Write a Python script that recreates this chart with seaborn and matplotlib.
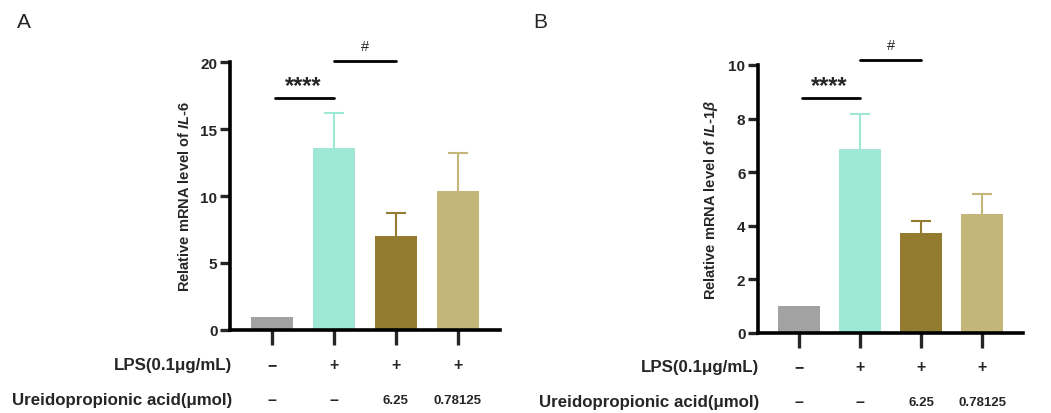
import numpy as np
import pandas as pd
import matplotlib
matplotlib.use("Agg")
import matplotlib.pyplot as plt
import matplotlib.transforms as mtransforms
import seaborn as sns

sns.set_style("white")
plt.rcParams['font.family'] = ['Liberation Sans', 'DejaVu Sans']
plt.rcParams['mathtext.fontset'] = 'custom'
plt.rcParams['mathtext.it'] = 'Liberation Sans:italic:bold'
plt.rcParams['mathtext.rm'] = 'Liberation Sans:bold'

# данные
groups = ["Control", "LPS", "LPS+6.25", "LPS+0.78125"]
colors = ["#a2a2a2", "#a0e8d6", "#937b30", "#c4b578"]
lps_row = ["−", "+", "+", "+"]
ua_row = ["–", "–", "6.25", "0.78125"]

il6_mean = [1.0, 13.6, 7.05, 10.35]
il6_err = [0.0, 2.6, 1.7, 2.85]
il1b_mean = [1.0, 6.85, 3.72, 4.43]
il1b_err = [0.0, 1.33, 0.45, 0.76]

fig = plt.figure(figsize=(10.51, 4.14), dpi=100)

panels = [
    dict(rect=[0.2188, 0.2005, 0.2569, 0.6473], mean=il6_mean, err=il6_err,
         ymax=20, yticks=[0, 5, 10, 15, 20], gene=r"$\mathit{IL}$-$\mathit{6}$",
         letter="A", lx=0.016, star_y=17.3, hash_y=20.1, xl=(-0.68, 3.68),
         lps_y=1 - 366 / 414, ua_y=1 - 401 / 414),
    dict(rect=[0.7212, 0.194, 0.2522, 0.6466], mean=il1b_mean, err=il1b_err,
         ymax=10, yticks=[0, 2, 4, 6, 8, 10], gene=r"$\mathit{IL}$-$\mathit{1\beta}$",
         letter="B", lx=0.507, star_y=8.76, hash_y=10.2, xl=(-0.67, 3.67),
         lps_y=1 - 368 / 414, ua_y=1 - 403 / 414),
]

for p in panels:
    ax = fig.add_axes(p['rect'])
    df = pd.DataFrame({'group': groups, 'value': p['mean']})
    sns.barplot(data=df, x='group', y='value', hue='group', palette=colors,
                legend=False, width=0.68, saturation=1, ax=ax, errorbar=None,
                edgecolor='none')
    # только верхние усы
    for i, (m, e) in enumerate(zip(p['mean'], p['err'])):
        if e > 0:
            ax.vlines(i, m, m + e, color=colors[i], lw=1.5)
            ax.hlines(m + e, i - 0.16, i + 0.16, color=colors[i], lw=1.5)
    ax.set_ylim(0, p['ymax'])
    ax.set_xlim(*p['xl'])
    ax.set_yticks(p['yticks'])
    ax.set_xticks(range(4))
    ax.set_xticklabels([])
    ax.set_xlabel("")
    ax.set_ylabel("Relative mRNA level of " + p['gene'], fontsize=10.5,
                  fontweight='bold', labelpad=6)
    for s in ['top', 'right']:
        ax.spines[s].set_visible(False)
    for s in ['left', 'bottom']:
        ax.spines[s].set_linewidth(2.6)
        ax.spines[s].set_color('black')
        ax.spines[s].set_zorder(3)
    ax.tick_params(axis='y', direction='out', length=7, width=2.4, labelsize=11,
                   left=True, pad=2)
    ax.tick_params(axis='x', direction='out', length=11, width=2.4, bottom=True)
    for lab in ax.get_yticklabels():
        lab.set_fontweight('bold')

    # значимость
    ax.plot([0.05, 1], [p['star_y']] * 2, color='black', lw=2, clip_on=False)
    ax.text(0.5, p['star_y'] + p['ymax'] * 0.005, "****", ha='center', va='bottom',
            fontsize=17, fontweight='bold')
    ax.plot([1, 2], [p['hash_y']] * 2, color='black', lw=2, clip_on=False)
    ax.text(1.5, p['hash_y'] + p['ymax'] * 0.03, "#", ha='center', va='bottom',
            fontsize=10.5)

    tr = mtransforms.blended_transform_factory(ax.transData, fig.transFigure)
    ax.text(-0.65, p['lps_y'], "LPS(0.1μg/mL)", transform=tr, ha='right',
            va='center', fontsize=12.2, fontweight='bold')
    ax.text(-0.65, p['ua_y'], "Ureidopropionic acid(μmol)", transform=tr,
            ha='right', va='center', fontsize=12.2, fontweight='bold')
    for i in range(4):
        ax.text(i, p['lps_y'], lps_row[i], transform=tr, ha='center',
                va='center', fontsize=11.5, fontweight='bold')
        ax.text(i, p['ua_y'], ua_row[i], transform=tr, ha='center',
                va='center', fontsize=9.5 if ua_row[i] != "–" else 11.5,
                fontweight='bold')

    fig.text(p['lx'], 1 - 23 / 414, p['letter'], fontsize=15, ha='left',
             va='center')

fig.savefig("out.png", dpi=100)
